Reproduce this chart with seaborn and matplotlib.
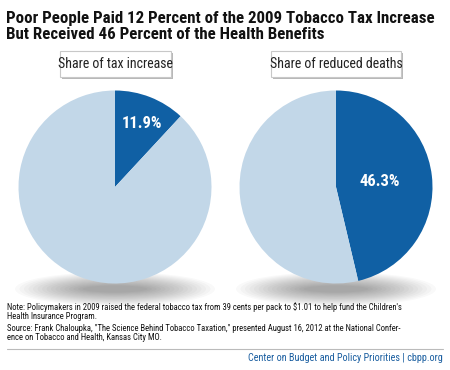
import matplotlib
matplotlib.use('Agg')
import matplotlib.pyplot as plt
from matplotlib import font_manager
from matplotlib.patches import Ellipse, Rectangle
import seaborn as sns

sns.set_theme(style='white')

# data
panel_titles = ['Share of tax increase', 'Share of reduced deaths']
poor_share = [11.9, 46.3]
pie_labels = ['11.9%', '46.3%']
dark_blue = '#1060a4'
light_blue = '#c2d7e8'

title = ('Poor People Paid 12 Percent of the 2009 Tobacco Tax Increase\n'
         'But Received 46 Percent of the Health Benefits')
note = ("Note: Policymakers in 2009 raised the federal tobacco tax from 39 cents per pack to $1.01 to help fund the Children's\n"
        "Health Insurance Program.")
source = ('Source: Frank Chaloupka, "The Science Behind Tobacco Taxation," presented August 16, 2012 at the National Confer-\n'
          'ence on Tobacco and Health, Kansas City MO.')
footer = 'Center on Budget and Policy Priorities | cbpp.org'


def pick_font(names):
    have = {f.name for f in font_manager.fontManager.ttflist}
    for n in names:
        if n in have:
            return n
    return 'DejaVu Sans'


narrow = pick_font(['Liberation Sans Narrow', 'Roboto Condensed', 'Open Sans', 'Liberation Sans'])
plt.rcParams['font.family'] = [narrow, 'DejaVu Sans']

W, H = 450, 370
fig = plt.figure(figsize=(W / 100, H / 100), dpi=100)


def pixel_axes():
    a = fig.add_axes([0, 0, 1, 1])
    a.set_xlim(0, W)
    a.set_ylim(H, 0)
    a.axis('off')
    a.patch.set_alpha(0)
    return a


bg = pixel_axes()

centers = [115, 336]
cy, r = 187, 96.5

for cx, lab, val in zip(centers, panel_titles, poor_share):
    # soft shadow under pie
    for k in range(16):
        bg.add_patch(Ellipse((cx, 289), 200 - k * 9, 34 - k * 1.8,
                             color='black', alpha=0.025, lw=0))
    ax = fig.add_axes([(cx - r) / W, (H - cy - r) / H, 2 * r / W, 2 * r / H])
    ax.pie([val, 100 - val], colors=[dark_blue, light_blue], startangle=90,
           counterclock=False, wedgeprops=dict(linewidth=0))
    ax.set_xlim(-1, 1)
    ax.set_ylim(-1, 1)
    ax.set_aspect('equal')
    ax.axis('off')

fg = pixel_axes()
for cx, lab in zip(centers, panel_titles):
    # label box with drop shadow
    bw = 111 if cx < 200 else 130
    fg.add_patch(Rectangle((cx - bw / 2 + 2, 53), bw, 26, color='#b8b8b8', lw=0))
    fg.add_patch(Rectangle((cx - bw / 2, 51), bw, 26, facecolor='white',
                           edgecolor='#c8c8c8', lw=0.8))
    fg.text(cx, 64, lab, ha='center', va='center', fontsize=10, color='#222222')

fg.text(142, 123, pie_labels[0], ha='center', va='center', fontsize=12,
        fontweight='bold', color='white')
fg.text(380, 181, pie_labels[1], ha='center', va='center', fontsize=12,
        fontweight='bold', color='white')

fg.text(6, 11, title, ha='left', va='top', fontsize=12.2, fontweight='bold',
        color='#111111', linespacing=1.05)

fg.text(7, 302, note, ha='left', va='top', fontsize=6.2, color='#111111', linespacing=1.05)
fg.text(7, 324, source, ha='left', va='top', fontsize=6.2, color='#111111', linespacing=1.05)
fg.plot([7, 443], [349, 349], color='#bbbbbb', lw=0.8)
fg.text(443, 358, footer, ha='right', va='center', fontsize=7.3, color='#1a5ea0')

fig.savefig('out.png', dpi=100, facecolor='white')
